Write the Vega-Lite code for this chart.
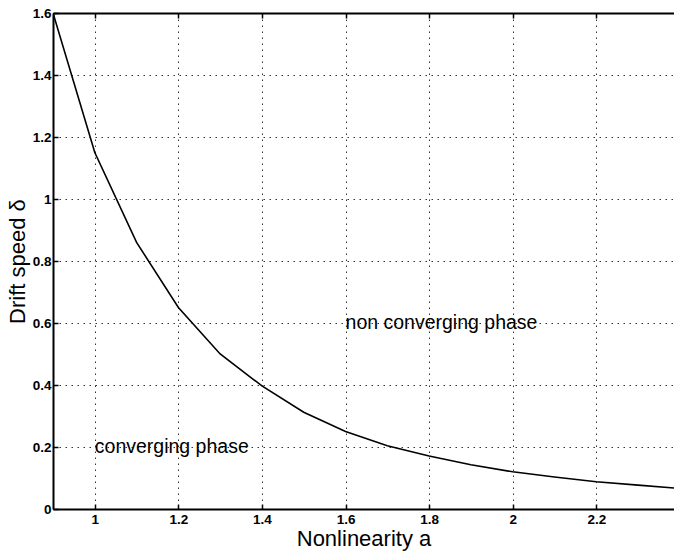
{
  "$schema": "https://vega.github.io/schema/vega-lite/v6.json",
  "width": 621,
  "height": 496,
  "autosize": {"type": "none"},
  "padding": {"left": 53, "top": 13, "right": 0, "bottom": 45},
  "background": "white",
  "view": {"stroke": null},
  "config": {
    "font": "Liberation Sans",
    "axis": {
      "domainColor": "black",
      "domainWidth": 2,
      "tickColor": "black",
      "tickWidth": 1.5,
      "tickSize": -5,
      "labelColor": "black",
      "labelFont": "Liberation Sans",
      "labelFontSize": 13.5,
      "labelFontWeight": "bold",
      "titleColor": "black",
      "titleFont": "Liberation Sans",
      "titleFontSize": 22,
      "titleFontWeight": "normal",
      "gridColor": "black",
      "gridOpacity": 0.8,
      "gridDash": [1.5, 4.5],
      "gridWidth": 1
    }
  },
  "datasets": {
    "curve": [
      {"a": 0.9, "delta": 1.6},
      {"a": 1.0, "delta": 1.15},
      {"a": 1.1, "delta": 0.86},
      {"a": 1.2, "delta": 0.65},
      {"a": 1.3, "delta": 0.5},
      {"a": 1.4, "delta": 0.397},
      {"a": 1.5, "delta": 0.312},
      {"a": 1.6, "delta": 0.25},
      {"a": 1.7, "delta": 0.204},
      {"a": 1.8, "delta": 0.171},
      {"a": 1.9, "delta": 0.143},
      {"a": 2.0, "delta": 0.12},
      {"a": 2.1, "delta": 0.103},
      {"a": 2.2, "delta": 0.088},
      {"a": 2.3, "delta": 0.077},
      {"a": 2.4, "delta": 0.066}
    ],
    "phases": [
      {"a": 1.6, "delta": 0.6, "label": "non converging phase"},
      {"a": 1.0, "delta": 0.2, "label": "converging phase"}
    ]
  },
  "layer": [
    {
      "data": {"name": "curve"},
      "mark": {"type": "line", "color": "black", "strokeWidth": 1.6, "clip": true},
      "encoding": {
        "x": {
          "field": "a",
          "type": "quantitative",
          "scale": {"domain": [0.9, 2.386], "nice": false, "zero": false},
          "axis": {
            "orient": "bottom",
            "title": "Nonlinearity a",
            "values": [1, 1.2, 1.4, 1.6, 1.8, 2, 2.2],
            "format": "~g",
            "labelPadding": 8,
            "titlePadding": 3,
            "grid": true
          }
        },
        "y": {
          "field": "delta",
          "type": "quantitative",
          "scale": {"domain": [0, 1.6], "nice": false},
          "axis": {
            "orient": "left",
            "title": "Drift speed δ",
            "values": [0, 0.2, 0.4, 0.6, 0.8, 1, 1.2, 1.4, 1.6],
            "format": "~g",
            "labelPadding": 7,
            "titlePadding": 3,
            "grid": true
          }
        }
      }
    },
    {
      "data": {"name": "phases"},
      "mark": {"type": "text", "align": "left", "baseline": "middle", "fontSize": 19.5, "font": "Liberation Sans", "color": "black"},
      "encoding": {
        "x": {
          "field": "a",
          "type": "quantitative",
          "axis": {
            "orient": "top",
            "title": null,
            "labels": false,
            "grid": false,
            "values": [1, 1.2, 1.4, 1.6, 1.8, 2, 2.2]
          }
        },
        "y": {"field": "delta", "type": "quantitative"},
        "text": {"field": "label"}
      }
    }
  ],
  "resolve": {"axis": {"x": "independent"}}
}
